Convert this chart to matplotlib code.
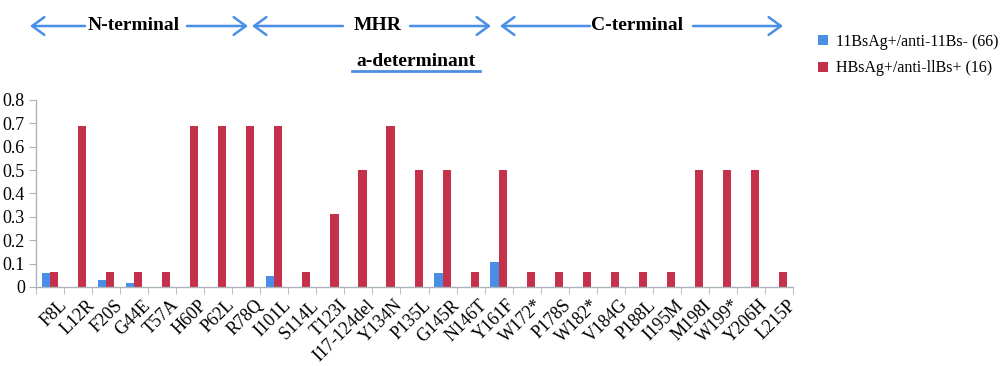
import matplotlib
matplotlib.use("Agg")
import matplotlib.pyplot as plt
import matplotlib.transforms as mtransforms
import numpy as np
from matplotlib.patches import Patch

categories = ["F8L", "L12R", "F20S", "G44E", "T57A", "H60P", "P62L", "R78Q", "I101L",
              "S114L", "T123I", "I117-124del", "Y134N", "P135L", "G145R", "N146T", "Y161F",
              "W172*", "P178S", "W182*", "V184G", "P188L", "I195M", "M198I", "W199*",
              "Y206H", "L215P"]
tick_labels = ["F8L", "L12R", "F20S", "G44E", "T57A", "H60P", "P62L", "R78Q", "I101L",
               "S114L", "T123I", "I17-124del", "Y134N", "P135L", "G145R", "N146T", "Y161F",
               "W172*", "P178S", "W182*", "V184G", "P188L", "I195M", "M198I", "W199*",
               "Y206H", "L215P"]
blue_vals = [0.061, 0, 0.030, 0.015, 0, 0, 0, 0, 0.045, 0, 0, 0, 0, 0, 0.061, 0, 0.106,
             0, 0, 0, 0, 0, 0, 0, 0, 0, 0]
red_vals = [0.0625, 0.6875, 0.0625, 0.0625, 0.0625, 0.6875, 0.6875, 0.6875, 0.6875,
            0.0625, 0.3125, 0.5, 0.6875, 0.5, 0.5, 0.0625, 0.5,
            0.0625, 0.0625, 0.0625, 0.0625, 0.0625, 0.0625, 0.5, 0.5, 0.5, 0.0625]
series_names = ["11BsAg+/anti-11Bs- (66)", "HBsAg+/anti-llBs+ (16)"]
yticks = [0, 0.1, 0.2, 0.3, 0.4, 0.5, 0.6, 0.7, 0.8]
ytick_labels = ["0", "0.1", "0.2", "0.3", "0.4", "0.5", "0.6", "0.7", "0.8"]

BLUE = "#4a8fe6"
RED = "#c5304b"
ARROW = "#4a8fe6"
AXC = "#a9b3b8"
FONT = "Liberation Serif"

plt.rcParams['font.family'] = [FONT, 'DejaVu Serif']

fig = plt.figure(figsize=(10, 3.66), dpi=100)
ax = fig.add_axes([0.036, 0.216, 0.757, 0.511])

x = np.arange(len(categories))
w = 0.29
ax.bar(x - w / 2, blue_vals, width=w, color=BLUE, label=series_names[0])
ax.bar(x + w / 2, red_vals, width=w, color=RED, label=series_names[1])

ax.set_xlim(-0.5, len(categories) - 0.5)
ax.set_ylim(0, 0.8)
ax.set_yticks(yticks)
ax.set_yticklabels(ytick_labels, fontsize=13)
ax.set_xticks(x)
ax.set_xticklabels(tick_labels, rotation=45, ha='right', rotation_mode='anchor', fontsize=13)
ax.set_xticks(np.arange(-0.5, len(categories), 1), minor=True)
ax.tick_params(axis='x', which='major', length=0, pad=7)
ax.tick_params(axis='x', which='minor', length=5, color=AXC, direction='out')
ax.tick_params(axis='y', length=5, color=AXC, pad=3)
offset = mtransforms.ScaledTranslation(8 / 100, 0, fig.dpi_scale_trans)
for lab in ax.get_xticklabels():
    lab.set_transform(lab.get_transform() + offset)
for s in ['top', 'right']:
    ax.spines[s].set_visible(False)
for s in ['left', 'bottom']:
    ax.spines[s].set_color(AXC)
    ax.spines[s].set_linewidth(1.0)

def fx(px):
    return px / 1000.0

def fy(py):
    return 1 - py / 366.0

def arrow(x0, x1, y, direction):
    if direction == 'left':
        xy, xyt = (fx(x0), fy(y)), (fx(x1), fy(y))
    else:
        xy, xyt = (fx(x1), fy(y)), (fx(x0), fy(y))
    fig.add_artist(matplotlib.patches.FancyArrowPatch(
        xyt, xy, transform=fig.transFigure,
        arrowstyle='->,head_length=5.5,head_width=4', color=ARROW, lw=1.8,
        mutation_scale=1.6, shrinkA=0, shrinkB=0))

yA = 26
arrow(30, 85, yA, 'left')
arrow(187, 248, yA, 'right')
arrow(252, 343, yA, 'left')
arrow(410, 491, yA, 'right')
arrow(500, 590, yA, 'left')
arrow(693, 783, yA, 'right')

fig.text(fx(134), fy(yA), "N-terminal", ha='center', va='center', fontsize=14, fontweight='bold')
fig.text(fx(378), fy(yA), "MHR", ha='center', va='center', fontsize=14, fontweight='bold')
fig.text(fx(637), fy(yA), "C-terminal", ha='center', va='center', fontsize=14, fontweight='bold')
fig.text(fx(416), fy(61), "a-determinant", ha='center', va='center', fontsize=14, fontweight='bold')
fig.add_artist(matplotlib.lines.Line2D([fx(352), fx(480)], [fy(71), fy(71)],
                                       transform=fig.transFigure, color=ARROW, lw=2))

handles = [Patch(facecolor=BLUE, label=series_names[0]),
           Patch(facecolor=RED, label=series_names[1])]
fig.legend(handles=handles, loc='upper left', bbox_to_anchor=(0.812, 0.925),
           frameon=False, fontsize=11.5, handlelength=0.6, handleheight=0.6,
           handletextpad=0.5, labelspacing=0.65, borderaxespad=0)

fig.savefig("out.png", dpi=100)
